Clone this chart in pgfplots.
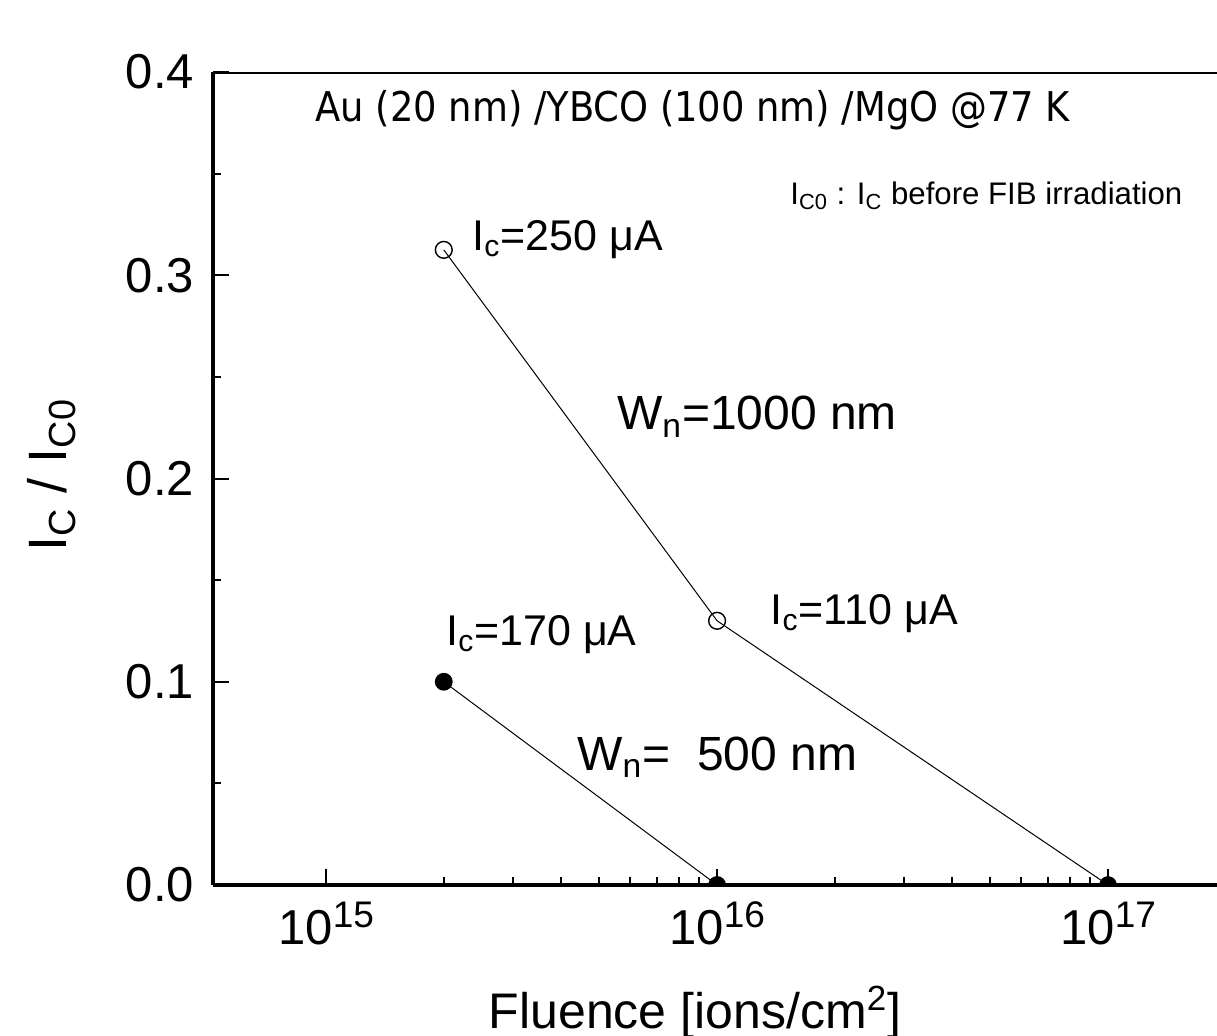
\documentclass[border=0pt]{standalone}
\usepackage{pgfplots}
\pgfplotsset{compat=1.18}
\usepackage{fontspec}
\setmainfont{Liberation Sans}
\newfontfamily\titlefont{DejaVu Sans Condensed}

\begin{document}
\begin{tikzpicture}
\begin{axis}[
    scale only axis,
    width=502pt, height=406.5pt,
    xmode=log,
    xmin=5.14e14, xmax=1.90e17,
    ymin=0, ymax=0.4,
    axis x line*=bottom, axis y line*=left,
    axis line style={line width=1.6pt, -},
    axis on top,
    clip marker paths=true,
    tick align=inside,
    major tick length=7.8pt, minor tick length=3.8pt,
    every tick/.style={black, line width=1pt},
    xtick={1e15,1e16,1e17},
    xticklabels={10\raisebox{8.5pt}{\fontsize{18.5}{20}\selectfont 15},
                 10\raisebox{8.5pt}{\fontsize{18.5}{20}\selectfont 16},
                 10\raisebox{8.5pt}{\fontsize{18.5}{20}\selectfont 17}},
    ytick={0,0.1,0.2,0.3,0.4},
    minor y tick num=1,
    yticklabel style={xshift=-6pt, /pgf/number format/.cd, fixed, fixed zerofill, precision=1, assume math mode=true},
    xticklabel style={yshift=-5pt},
    tick label style={font=\fontsize{24.5}{29}\selectfont},
    xlabel={Fluence [ions/cm\textsuperscript{2}]},
    ylabel={I\textsubscript{C} / I\textsubscript{C0}},
    xlabel style={font=\fontsize{25}{30}\selectfont, at={(axis description cs:0.480,-0.176)}, anchor=base},
    ylabel style={font=\fontsize{27}{32}\selectfont, at={(axis description cs:-0.161,0.504)}, anchor=center, rotate=0},
]
% open circles, W_n = 1000 nm
\addplot[black, line width=0.5pt, mark=o, mark size=4.2pt,
  mark options={fill=white, line width=0.7pt}, mark indices={1,2}]
  coordinates {(2e15,0.3125) (1e16,0.13) (1e17,0)};
% filled circles, W_n = 500 nm
\addplot[black, line width=0.5pt, mark=*, mark size=4.2pt]
  coordinates {(2e15,0.1) (1e16,0)};
\addplot[black, only marks, mark=*, mark size=4.2pt]
  coordinates {(1e17,0)};

\draw[line width=1.6pt] (rel axis cs:0,1) -- (rel axis cs:1,1);

\tikzset{lbl/.style={anchor=base west, inner sep=0pt}}
\node[lbl, font=\titlefont\fontsize{20.5}{24}\selectfont] at (rel axis cs:0.1016,0.939) {Au (20 nm) /YBCO (100 nm) /MgO @77 K};
\node[lbl, font=\fontsize{15.6}{18}\selectfont] at (rel axis cs:0.5747,0.837) {I\textsubscript{C0} : I\textsubscript{C} before FIB irradiation};
\node[lbl, font=\fontsize{21.5}{26}\selectfont] at (rel axis cs:0.258,0.781) {I\textsubscript{c}=250 μA};
\node[lbl, font=\fontsize{24}{28}\selectfont] at (rel axis cs:0.402,0.560) {W\textsubscript{n}=1000 nm};
\node[lbl, font=\fontsize{21.5}{26}\selectfont] at (rel axis cs:0.555,0.321) {I\textsubscript{c}=110 μA};
\node[lbl, font=\fontsize{21.5}{26}\selectfont] at (rel axis cs:0.232,0.295) {I\textsubscript{c}=170 μA};
\node[lbl, font=\fontsize{24}{28}\selectfont] at (rel axis cs:0.3625,0.141) {W\textsubscript{n}=\ \ 500 nm};
\end{axis}
\pgfresetboundingbox
\path[use as bounding box] (-106.5pt,-75pt) rectangle (502pt,442.5pt);
\end{tikzpicture}
\end{document}
